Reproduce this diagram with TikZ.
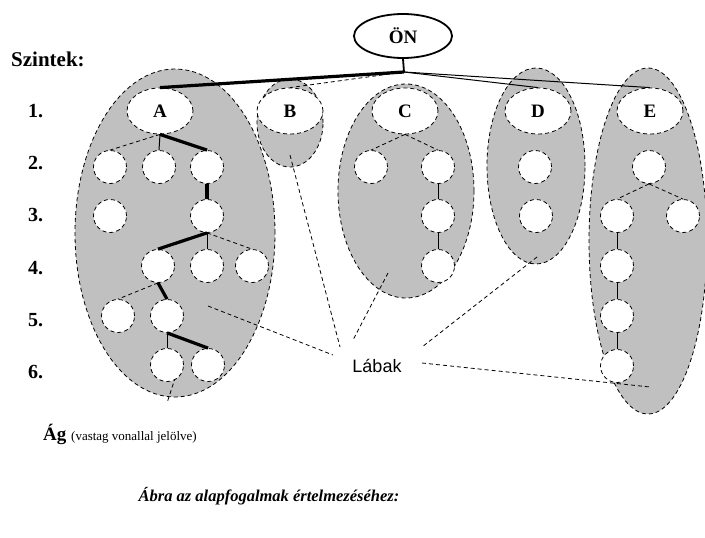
\documentclass[tikz,border=0pt]{standalone}
\usepackage{fontspec}
\setmainfont{Liberation Serif}
\newfontfamily\labfont{Liberation Sans}
\usetikzlibrary{shapes.geometric}
\definecolor{grpgray}{RGB}{192,192,192}
\begin{document}
\begin{tikzpicture}[x=1pt,y=-1pt,
  grp/.style={ellipse, draw, fill=grpgray, line width=0.8pt, dash pattern=on 4pt off 3pt, inner sep=0pt},
  lvl/.style={ellipse, draw, fill=white, line width=0.8pt, dash pattern=on 4pt off 3pt, minimum width=66pt, minimum height=46pt, inner sep=0pt, font=\bfseries\fontsize{19}{19}\selectfont},
  nd/.style={circle, draw, fill=white, line width=0.8pt, dash pattern=on 4pt off 3pt, minimum size=33pt, inner sep=0pt},
  tl/.style={line width=1pt},
  dl/.style={line width=0.8pt, dash pattern=on 4pt off 3pt},
  bl/.style={line width=3.2pt},
  lbl/.style={font=\bfseries\fontsize{20}{20}\selectfont, anchor=west, inner sep=0pt}
]
\useasboundingbox (0,0) rectangle (705,538);

% grey groups
\node[grp, minimum width=200pt, minimum height=328pt] (gA) at (175,233) {};
\node[grp, minimum width=66pt, minimum height=88pt] (gB) at (290,123) {};
\node[grp, minimum width=136pt, minimum height=214pt] (gC) at (406,191) {};
\node[grp, minimum width=98pt, minimum height=196pt] (gD) at (536,166) {};
\node[grp, minimum width=118pt, minimum height=346pt] (gE) at (648,241) {};

% leaf pointer lines
\coordinate (pA) at (208,306); \coordinate (pAe) at (333,355);
\coordinate (pB) at (290,155); \coordinate (pBe) at (340,347);
\coordinate (pC) at (388,273); \coordinate (pCe) at (353,340);
\coordinate (pD) at (537,257); \coordinate (pDe) at (422,347);
\coordinate (pE) at (650,387); \coordinate (pEe) at (422,363);
\draw[dl] (pA) -- (pAe);
\draw[dl] (pB) -- (pBe);
\draw[dl] (pC) -- (pCe);
\draw[dl] (pD) -- (pDe);
\draw[dl] (pEe) -- (pE);
\coordinate (agT) at (182,357); \coordinate (agB) at (167,403);
\draw[dl] (agT) -- (agB);

% root
\node[ellipse, draw, fill=white, line width=1.8pt, minimum width=98pt, minimum height=44pt, inner sep=0pt, font=\bfseries\fontsize{19}{19}\selectfont] (ON) at (403,36) {ÖN};
\coordinate (j) at (404,72);

% level 1
\node[lvl] (A) at (160,111) {A};
\node[lvl] (B) at (290,111) {B};
\node[lvl] (C) at (405,111) {C};
\node[lvl] (D) at (538,111) {D};
\node[lvl] (E) at (650,111) {E};

% A subtree
\node[nd] (a21) at (110,167) {};
\node[nd] (a22) at (159,167) {};
\node[nd] (a23) at (207,167) {};
\node[nd] (a31) at (110,216) {};
\node[nd] (a32) at (207,216) {};
\node[nd] (a41) at (158,266) {};
\node[nd] (a42) at (207,266) {};
\node[nd] (a43) at (252,266) {};
\node[nd] (a51) at (118,316) {};
\node[nd] (a52) at (167,316) {};
\node[nd] (a61) at (167,365) {};
\node[nd] (a62) at (208,365) {};

% C subtree
\node[nd] (c21) at (371,167) {};
\node[nd] (c22) at (438,167) {};
\node[nd] (c32) at (438,216) {};
\node[nd] (c42) at (438,266) {};

% D
\node[nd] (d2) at (535,167) {};
\node[nd] (d3) at (536,216) {};

% E subtree
\node[nd] (e2) at (649,167) {};
\node[nd] (e31) at (617,216) {};
\node[nd] (e32) at (683,216) {};
\node[nd] (e41) at (617,266) {};
\node[nd] (e51) at (617,316) {};
\node[nd] (e61) at (617,366) {};

% root edges
\draw[line width=1.8pt] (ON.south) -- (j);
\draw[bl] (j) -- (A.north);
\draw[dl] (j) -- (B.north);
\draw[tl] (j) -- (D.north);
\draw[tl] (j) -- (E.north);

% A edges
\draw[dl] (A.south) -- (a21.north);
\draw[tl] (A.south) -- (a22.north);
\draw[bl] (A.south) -- (a23.north);
\draw[bl] (a23.south) -- (a32.north);
\draw[bl] (a32.south) -- (a41.north);
\draw[tl] (a32.south) -- (a42.north);
\draw[dl] (a32.south) -- (a43.north);
\draw[dl] (a41.south) -- (a51.north);
\draw[bl] (a41.south) -- (a52.north);
\draw[tl] (a52.south) -- (a61.north);
\draw[bl] (a52.south) -- (a62.north);

% C edges
\draw[dl] (C.south) -- (c21.north);
\draw[dl] (C.south) -- (c22.north);
\draw[tl] (c22.south) -- (c32.north);
\draw[tl] (c32.south) -- (c42.north);

% E edges
\draw[dl] (e2.south) -- (e31.north);
\draw[dl] (e2.south) -- (e32.north);
\draw[tl] (e31.south) -- (e41.north);
\draw[tl] (e41.south) -- (e51.north);
\draw[tl] (e51.south) -- (e61.north);

% labels
\node[lbl, font=\bfseries\fontsize{21}{21}\selectfont] (szt) at (11,59) {Szintek:};
\node[lbl] (l1) at (28,111) {1.};
\node[lbl] (l2) at (28,163) {2.};
\node[lbl] (l3) at (28,215) {3.};
\node[lbl] (l4) at (28,268) {4.};
\node[lbl] (l5) at (28,320) {5.};
\node[lbl] (l6) at (28,372) {6.};
\node[font=\labfont\fontsize{18}{18}\selectfont, inner sep=0pt] (lab) at (377,366) {Lábak};
\node[anchor=base west, inner sep=0pt] (ag) at (43,440) {\bfseries\fontsize{19}{19}\selectfont Ág \mdseries\fontsize{13}{13}\selectfont(vastag vonallal jelölve)};
\node[font=\bfseries\itshape\fontsize{16.5}{16.5}\selectfont, inner sep=0pt] (cap) at (269,496) {Ábra az alapfogalmak értelmezéséhez:};
\end{tikzpicture}
\end{document}
